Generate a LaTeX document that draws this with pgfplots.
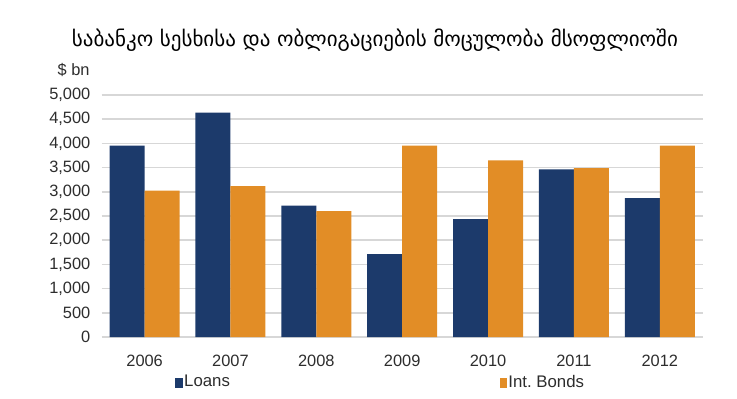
\documentclass[border=0pt]{standalone}
\usepackage{pgfplots}
\pgfplotsset{compat=1.18}
\usepackage{fontspec}
\setmainfont{Liberation Sans}
\newfontfamily\geofont{DejaVu Sans}
\definecolor{navy}{RGB}{28,58,107}
\definecolor{orng}{RGB}{226,141,38}
\definecolor{gridc}{RGB}{215,215,215}
\definecolor{txt}{RGB}{45,45,45}
\begin{document}
\begin{tikzpicture}
\useasboundingbox (-50.85pt,-30.5pt) rectangle (317.65pt,168.5pt);
\begin{axis}[
  at={(0pt,0pt)}, anchor=south west,
  scale only axis, width=300.5pt, height=121pt,
  xmin=-0.5, xmax=6.5, ymin=0, ymax=5000,
  ybar=0pt, bar width=17.5pt,
  axis line style={draw=none},
  major tick length=0pt,
  xtick={0,1,2,3,4,5,6},
  xticklabels={2006,2007,2008,2009,2010,2011,2012},
  ytick={0,500,...,5000},
  ymajorgrids, grid style={gridc, line width=0.8pt},
  tick label style={font=\fontsize{8.2}{9}\selectfont, text=txt},
  xticklabel style={inner sep=0pt, anchor=north, yshift=-9pt},
  yticklabel style={inner sep=0pt, anchor=east, xshift=-5.5pt},
  /pgf/number format/.cd, 1000 sep={,}, assume math mode=true,
  /pgfplots/.cd,
  legend columns=2,
  legend style={draw=none, fill=none, inner sep=0pt, anchor=west,
    at={(axis description cs:0.122,-0.188)},
    font=\fontsize{8.4}{9}\selectfont, text=txt,
    nodes={inner sep=0.8pt},
    /tikz/every even column/.append style={column sep=134pt}},
  legend image code/.code={\fill[#1,draw=none] (0pt,-2.5pt) rectangle (3.6pt,2.5pt);},
]
\addplot[fill=navy, draw=none] coordinates {(0,3955) (1,4635) (2,2715) (3,1712) (4,2435) (5,3465) (6,2868)};
\addplot[fill=orng, draw=none] coordinates {(0,3025) (1,3115) (2,2600) (3,3955) (4,3650) (5,3492) (6,3955)};
\legend{Loans, Int.\ Bonds}
\end{axis}
\node[anchor=west, inner sep=0pt, font=\fontsize{8.2}{9}\selectfont, text=txt] at (-22.2pt,133.5pt) {\$ bn};
\node[inner sep=0pt, text=black] at (136.65pt,148.5pt) {\resizebox{303pt}{!}{\geofont საბანკო სესხისა და ობლიგაციების მოცულობა მსოფლიოში}};
\end{tikzpicture}
\end{document}
